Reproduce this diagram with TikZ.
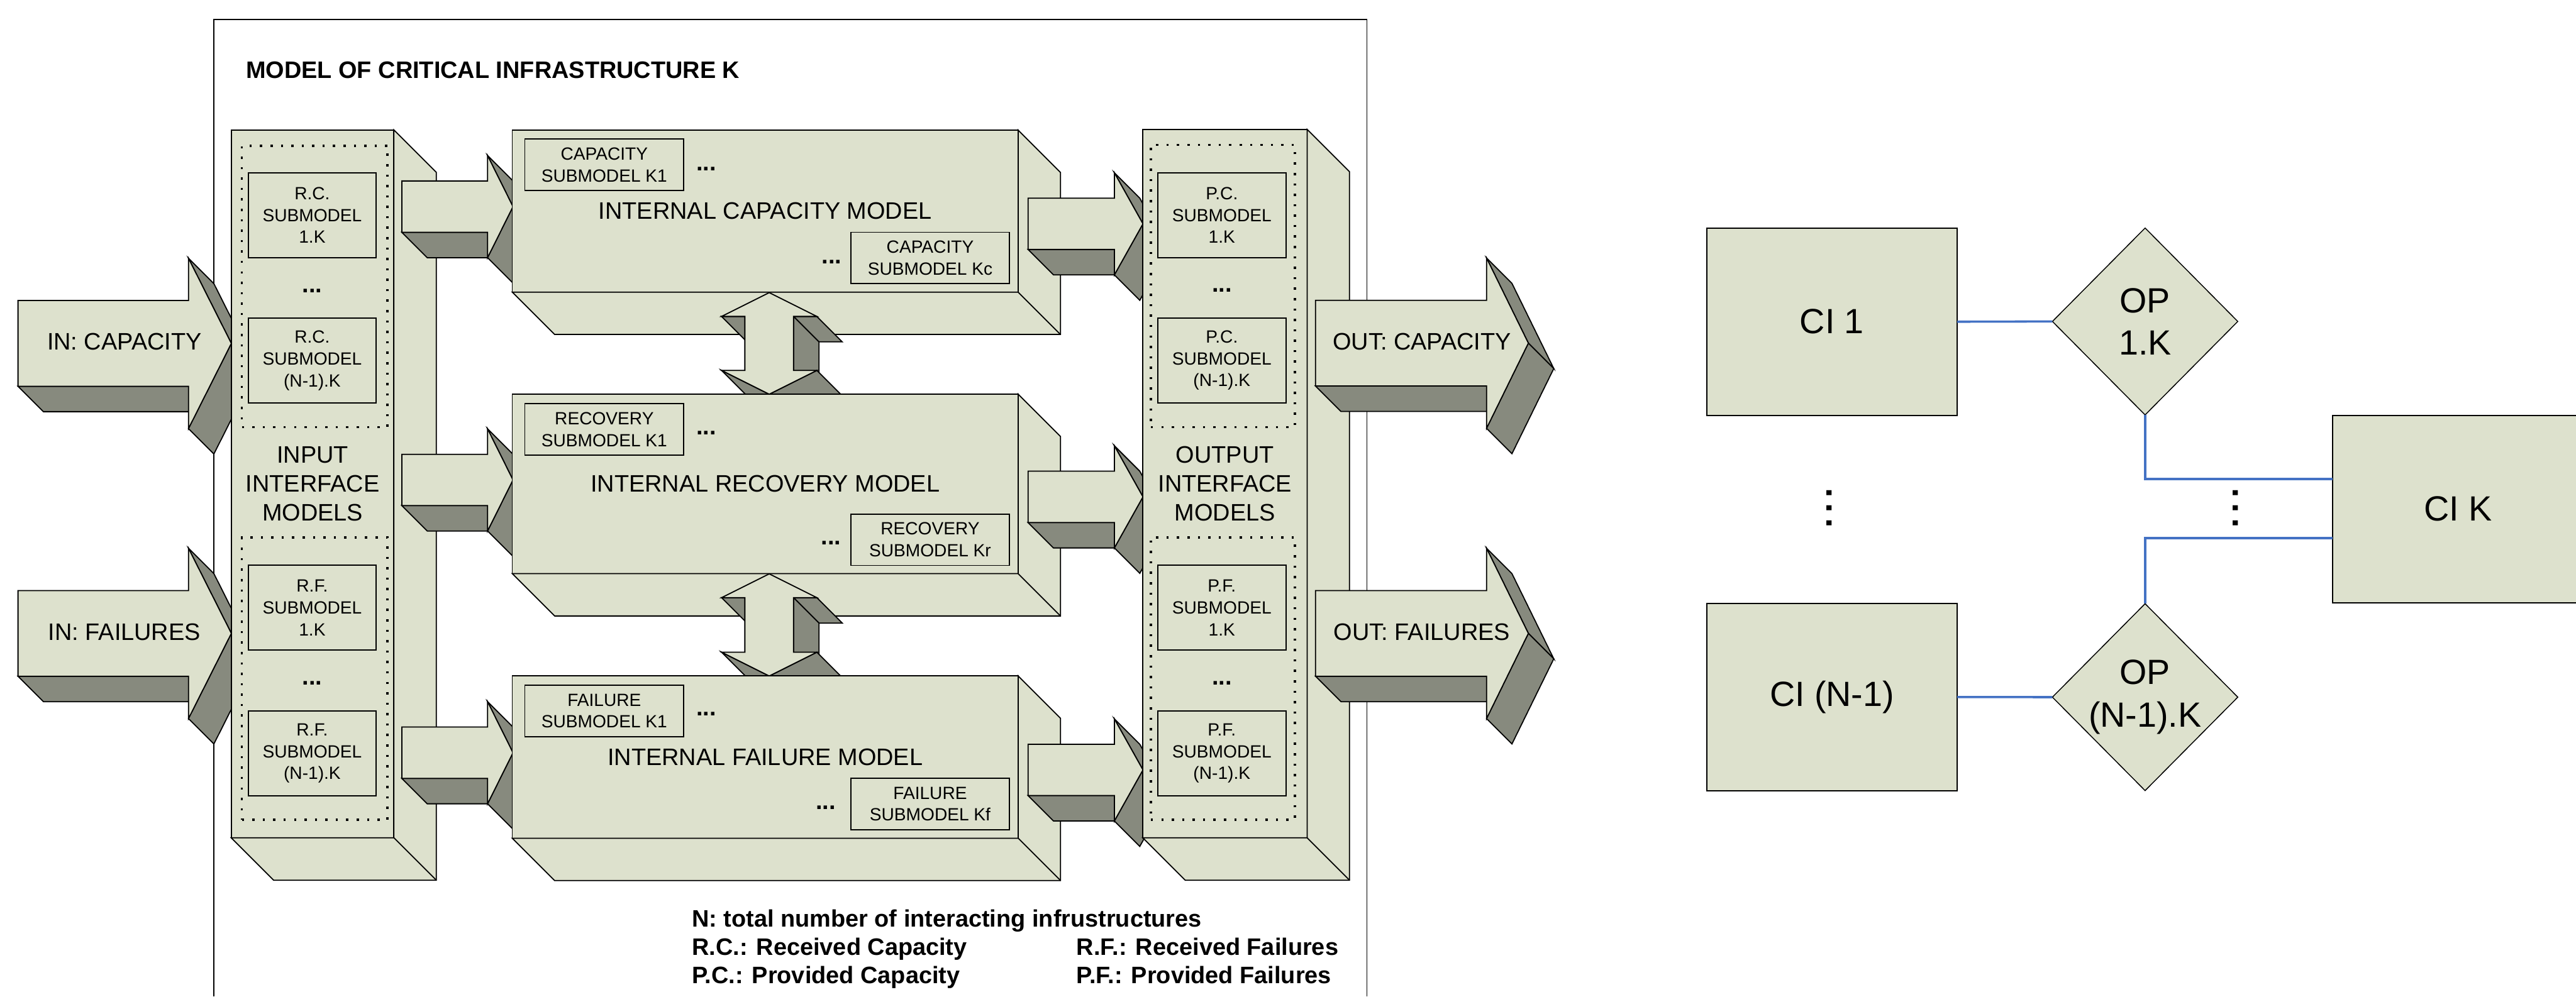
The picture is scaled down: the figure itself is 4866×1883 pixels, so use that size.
\documentclass[tikz,border=0pt]{standalone}
\usepackage{fontspec}
\setmainfont{Liberation Sans}
\usetikzlibrary{calc,shapes.geometric}

\definecolor{facefill}{RGB}{221,225,205}
\definecolor{shadefill}{RGB}{135,138,126}
\definecolor{linkblue}{RGB}{68,114,196}

\newcommand{\lblfont}{\fontsize{12.8}{15.6}\selectfont}
\newcommand{\subboxfont}{\fontsize{9.5}{11.7}\selectfont}
\newcommand{\cifont}{\fontsize{18.8}{22.8}\selectfont}

% side and bottom faces behind a front node
\newcommand{\boxdepth}[1]{%
  \draw[litface] (#1.north east) -- ++(80,80) -- ($(#1.south east)+(80,80)$) -- ($(#1.south west)+(80,80)$) -- (#1.south west) -- (#1.south east) -- cycle;
  \draw[line width=0.6pt] (#1.south east) -- ++(80,80);}

% left x, notch x, tip x, mid y, half body, half head
\newcommand{\blockarrow}[6]{%
  \draw[darkface] ({#1},{#4+#5}) -- ({#2},{#4+#5}) -- ({#2+48},{#4+#5+48}) -- ({#1+48},{#4+#5+48}) -- cycle;
  \draw[darkface] ({#2},{#4-#6}) -- ({#3},{#4}) -- ({#3+48},{#4+48}) -- ({#2+48},{#4-#6+48}) -- cycle;
  \draw[darkface] ({#3},{#4}) -- ({#2},{#4+#6}) -- ({#2+48},{#4+#6+48}) -- ({#3+48},{#4+48}) -- cycle;
  \draw[litface] ({#1},{#4-#5}) -- ({#2},{#4-#5}) -- ({#2},{#4-#6}) -- ({#3},{#4}) -- ({#2},{#4+#6}) -- ({#2},{#4+#5}) -- ({#1},{#4+#5}) -- cycle;}

% centre x, top tip y, bottom tip y
\newcommand{\twowayarrow}[3]{%
  \draw[darkface] ({#1-90},{#2+45}) -- ({#1-46},{#2+45}) -- ({#1+2},{#2+93}) -- ({#1-42},{#2+93}) -- cycle;
  \draw[darkface] ({#1+46},{#2+45}) -- ({#1+90},{#2+45}) -- ({#1+138},{#2+93}) -- ({#1+94},{#2+93}) -- cycle;
  \draw[darkface] ({#1+46},{#2+45}) -- ({#1+46},{#3-45}) -- ({#1+94},{#3+3}) -- ({#1+94},{#2+93}) -- cycle;
  \draw[darkface] ({#1-90},{#3-45}) -- ({#1},{#3}) -- ({#1+48},{#3+48}) -- ({#1-42},{#3+3}) -- cycle;
  \draw[darkface] ({#1},{#3}) -- ({#1+90},{#3-45}) -- ({#1+138},{#3+3}) -- ({#1+48},{#3+48}) -- cycle;
  \draw[litface] ({#1},{#2}) -- ({#1+90},{#2+45}) -- ({#1+46},{#2+45}) -- ({#1+46},{#3-45}) -- ({#1+90},{#3-45}) -- ({#1},{#3}) -- ({#1-90},{#3-45}) -- ({#1-46},{#3-45}) -- ({#1-46},{#2+45}) -- ({#1-90},{#2+45}) -- cycle;}

\begin{document}
\begin{tikzpicture}
		[x=0.01cm, y=-0.01cm,
		panel/.style ={draw=black, line width=0.6pt, fill=facefill, inner sep=0pt, outer sep=0pt, align=center, font=\lblfont},
		subbox/.style ={panel, font=\subboxfont},
		dotframe/.style ={draw=black, line width=1.2pt, dash pattern=on 1.2pt off 4.4pt, inner sep=0pt, outer sep=0pt},
		ellip/.style ={font=\lblfont\bfseries, inner sep=0pt, anchor=base},
		litface/.style ={draw=black, line width=0.6pt, fill=facefill},
		darkface/.style ={draw=black, line width=0.6pt, fill=shadefill},
		arrowlabel/.style ={font=\lblfont, inner sep=0pt},
		legendtext/.style ={font=\lblfont\bfseries, inner sep=0pt, anchor=base west},
		cibox/.style ={panel, font=\cifont, minimum width=4.73cm, minimum height=3.54cm},
		opbox/.style ={diamond, draw=black, line width=0.5pt, fill=facefill, inner sep=0pt, outer sep=0pt, minimum width=3.5cm, minimum height=3.53cm},
		cilabel/.style ={font=\cifont, align=center, inner sep=0pt},
		vdotsty/.style ={font=\cifont\bfseries, inner sep=0pt, rotate=-90},
		cilink/.style ={draw=linkblue, line width=1.2pt},
		]
		\useasboundingbox (0,0) rectangle (4866,1883);

		% frame of the model
		\draw[line width=0.5pt] (404,1883) -- (404,37) -- (2582,37) -- (2582,1883);
		\node[anchor=base west, inner sep=0pt, font=\lblfont\bfseries] (title) at (464,148) {MODEL OF CRITICAL INFRASTRUCTURE K};

		\blockarrow{34}{356}{437}{649}{81}{161}
		\blockarrow{34}{356}{437}{1197}{81}{161}
		\node[arrowlabel] (incap) at (235,646) {IN: CAPACITY};
		\node[arrowlabel] (infail) at (235,1195) {IN: FAILURES};

		% input interface models
		\node[panel, minimum width=3.07cm, minimum height=13.37cm] (inp) at (590.5,914.5) {INPUT\\INTERFACE\\MODELS};
		\boxdepth{inp}
		\node[dotframe, minimum width=2.75cm, minimum height=5.315cm] (inpc) at (594.5,541.25) {};
		\node[dotframe, minimum width=2.75cm, minimum height=5.33cm] (inpf) at (594.5,1282.5) {};
		\node[subbox, minimum width=2.415cm, minimum height=1.605cm] (rc1) at (589.75,406.75) {R.C.\\SUBMODEL\\1.K};
		\node[ellip] (rcdots) at (590,553) {...};
		\node[subbox, minimum width=2.415cm, minimum height=1.605cm] (rc2) at (589.75,681.5) {R.C.\\SUBMODEL\\(N-1).K};
		\node[subbox, minimum width=2.415cm, minimum height=1.605cm] (rf1) at (589.75,1148.5) {R.F.\\SUBMODEL\\1.K};
		\node[ellip] (rfdots) at (590,1294) {...};
		\node[subbox, minimum width=2.415cm, minimum height=1.605cm] (rf2) at (589.75,1423.5) {R.F.\\SUBMODEL\\(N-1).K};

		\blockarrow{759}{921}{969}{390.5}{48.5}{96.5}
		\blockarrow{759}{921}{969}{907}{48.5}{96.5}
		\blockarrow{759}{921}{969}{1422.5}{48.5}{96.5}

		% internal models
		\node[panel, minimum width=9.55cm, minimum height=3.06cm] (cap) at (1445.5,399) {INTERNAL CAPACITY MODEL};
		\boxdepth{cap}
		\node[subbox, minimum width=3cm, minimum height=0.97cm] (capk1) at (1141.5,311.5) {CAPACITY\\SUBMODEL K1};
		\node[ellip] (capdots1) at (1334,322) {...};
		\node[subbox, minimum width=3cm, minimum height=0.97cm] (capkc) at (1757,487.5) {CAPACITY\\SUBMODEL Kc};
		\node[ellip] (capdots2) at (1571,498) {...};

		\twowayarrow{1453}{553}{745}

		\node[panel, minimum width=9.55cm, minimum height=3.39cm] (rec) at (1445.5,914.5) {INTERNAL RECOVERY MODEL};
		\boxdepth{rec}
		\node[subbox, minimum width=3cm, minimum height=0.97cm] (reck1) at (1141.5,811.5) {RECOVERY\\SUBMODEL K1};
		\node[ellip] (recdots1) at (1334,822) {...};
		\node[subbox, minimum width=3cm, minimum height=0.97cm] (reckr) at (1757,1020) {RECOVERY\\SUBMODEL Kr};
		\node[ellip] (recdots2) at (1570,1029) {...};

		\twowayarrow{1453}{1084.5}{1277.5}

		\node[panel, minimum width=9.55cm, minimum height=3.065cm] (fail) at (1445.5,1430.75) {INTERNAL FAILURE MODEL};
		\boxdepth{fail}
		\node[subbox, minimum width=3cm, minimum height=0.97cm] (failk1) at (1141.5,1343.5) {FAILURE\\SUBMODEL K1};
		\node[ellip] (faildots1) at (1334,1353) {...};
		\node[subbox, minimum width=3cm, minimum height=0.97cm] (failkf) at (1757,1519.5) {FAILURE\\SUBMODEL Kf};
		\node[ellip] (faildots2) at (1560,1529) {...};

		\blockarrow{1942}{2105}{2159}{423}{48.5}{96.5}
		\blockarrow{1942}{2105}{2159}{939}{48.5}{96.5}
		\blockarrow{1942}{2105}{2159}{1455}{48.5}{96.5}

		% output interface models
		\node[panel, minimum width=3.1cm, minimum height=13.38cm] (outp) at (2314,914) {OUTPUT\\INTERFACE\\MODELS};
		\boxdepth{outp}
		\node[dotframe, minimum width=2.72cm, minimum height=5.33cm] (outpc) at (2310,540.5) {};
		\node[dotframe, minimum width=2.72cm, minimum height=5.33cm] (outpf) at (2310,1282.5) {};
		\node[subbox, minimum width=2.42cm, minimum height=1.605cm] (pc1) at (2308,406.75) {P.C.\\SUBMODEL\\1.K};
		\node[ellip] (pcdots) at (2308,552) {...};
		\node[subbox, minimum width=2.42cm, minimum height=1.605cm] (pc2) at (2308,681.25) {P.C.\\SUBMODEL\\(N-1).K};
		\node[subbox, minimum width=2.42cm, minimum height=1.605cm] (pf1) at (2308,1148.5) {P.F.\\SUBMODEL\\1.K};
		\node[ellip] (pfdots) at (2308,1294) {...};
		\node[subbox, minimum width=2.42cm, minimum height=1.605cm] (pf2) at (2308,1423.5) {P.F.\\SUBMODEL\\(N-1).K};

		\blockarrow{2485}{2808}{2887}{648.5}{81}{161}
		\blockarrow{2485}{2808}{2887}{1197}{81}{161}
		\node[arrowlabel] (outcap) at (2686,646) {OUT: CAPACITY};
		\node[arrowlabel] (outfail) at (2686,1195) {OUT: FAILURES};

		% abbreviations
		\node[legendtext] (legn) at (1306.5,1751.7) {N: total number of interacting infrustructures};
		\node[legendtext] (legrc) at (1306.5,1805) {R.C.: Received Capacity};
		\node[legendtext] (legpc) at (1306.5,1858.7) {P.C.: Provided Capacity};
		\node[legendtext] (legrf) at (2033,1805) {R.F.: Received Failures};
		\node[legendtext] (legpf) at (2033,1858.7) {P.F.: Provided Failures};

		% interdependencies with CI K
		\node[cibox] (ci1) at (3460.5,608) {CI 1};
		\node[cibox] (cin) at (3460.5,1317.25) {CI (N-1)};
		\node[cibox] (cik) at (4643.25,962) {CI K};
		\node[opbox] (op1) at (4052,607.5) {};
		\node[cilabel] (op1txt) at (op1) {OP\\1.K};
		\node[opbox] (opn) at (4052,1317.5) {};
		\node[cilabel] (opntxt) at (opn) {OP\\(N-1).K};
		\node[vdotsty] (cidots) at (3455,960) {.\hspace{2.8pt}.\hspace{2.8pt}.};
		\node[vdotsty] (opdots) at (4223,960) {.\hspace{2.8pt}.\hspace{2.8pt}.};

		\draw[cilink] (ci1.east) -- (op1.west);
		\draw[cilink] (cin.east) -- (opn.west);
		\draw[cilink] (op1.south) |- ([yshift=5.7mm]cik.west);
		\draw[cilink] ([yshift=-5.5mm]cik.west) -| (opn.north);
	\end{tikzpicture}
\end{document}
